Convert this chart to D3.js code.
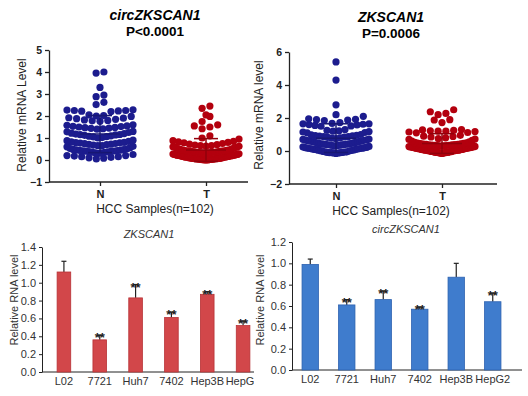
<!DOCTYPE html>
<html>
<head>
<meta charset="utf-8">
<script src="https://cdn.jsdelivr.net/npm/d3@7"></script>
<style>
  body { margin: 0; background: #fff; }
  svg { display: block; font-family: "Liberation Sans", Arial, sans-serif; }
</style>
</head>
<body>
<svg width="528" height="396"></svg>
<script>
// scatter data, HCC samples (n=102)
var circN = [4.0, 3.95, 3.3, 2.95, 2.88, 2.62, 2.52,
  2.28, 2.25, 2.22, 2.25, 2.2, 2.27, 2.23,
  2.02, 2.0, 1.98, 2.05, 1.9, 1.88, 1.92, 1.85, 1.8, 1.78, 1.82, 1.76,
  1.6, 1.55, 1.5, 1.48, 1.45, 1.52, 1.42, 1.58, 1.4, 1.47, 1.53, 1.44,
  1.3, 1.25, 1.2, 1.15, 1.12, 1.1, 1.08, 1.05, 1.02, 1.18, 1.22, 1.0, 1.28, 1.14, 1.06, 1.16,
  0.9, 0.85, 0.8, 0.78, 0.75, 0.72, 0.7, 0.68, 0.65, 0.62, 0.82, 0.88, 0.6, 0.74, 0.77, 0.66, 0.71, 0.79,
  0.55, 0.5, 0.48, 0.45, 0.42, 0.4, 0.38, 0.36, 0.35, 0.33, 0.3, 0.52, 0.44, 0.46, 0.41, 0.39, 0.37, 0.32, 0.43, 0.47,
  0.25, 0.2, 0.18, 0.15, 0.12, 0.1, 0.08, 0.05, 0.15, 0.2];
var circT = [2.45, 2.35, 2.05, 1.98, 1.75, 1.6, 1.55, 1.5, 1.42,
  1.1, 1.0, 0.95, 0.85, 0.82, 0.8, 0.78, 0.88,
  0.75, 0.7, 0.68, 0.65, 0.62, 0.6, 0.58, 0.55, 0.52, 0.5, 0.72, 0.66, 0.57, 0.63,
  0.48, 0.45, 0.42, 0.4, 0.38, 0.36, 0.35, 0.34, 0.33, 0.32, 0.3, 0.44, 0.41, 0.39, 0.37, 0.46, 0.43, 0.31, 0.35, 0.4,
  0.28, 0.26, 0.25, 0.24, 0.22, 0.2, 0.18, 0.16, 0.15, 0.14, 0.12, 0.1, 0.27, 0.23, 0.21, 0.19, 0.17, 0.13, 0.11, 0.2, 0.25, 0.15,
  0.09, 0.08, 0.07, 0.06, 0.05, 0.04, 0.03, 0.02, 0.01, 0.0, 0.08, 0.06, 0.05, 0.03, 0.02, 0.07, 0.04, 0.01,
  0.29, 0.18, 0.12, 0.09, 0.05, 0.02, 0.0, 0.03, 0.06, 0.14, 0.22];
var zkN = [5.4, 4.3, 2.8, 2.2, 2.1,
  1.92, 1.9, 1.88, 1.85, 1.95,
  1.72, 1.68, 1.65, 1.62, 1.6, 1.58, 1.55, 1.52, 1.5, 1.65,
  1.3, 1.25, 1.2, 1.18, 1.15, 1.12, 1.1, 1.22,
  1.0, 0.98, 0.95, 0.92, 0.9, 0.88, 0.85, 0.82, 0.8, 0.78, 0.75, 0.93, 0.87,
  0.72, 0.7, 0.68, 0.65, 0.62, 0.6, 0.58, 0.55, 0.52, 0.5, 0.66, 0.63, 0.57, 0.54,
  0.48, 0.45, 0.42, 0.4, 0.38, 0.36, 0.35, 0.33, 0.3, 0.28, 0.25, 0.44, 0.41, 0.39, 0.37, 0.32, 0.46, 0.43,
  0.22, 0.2, 0.18, 0.15, 0.12, 0.1, 0.08, 0.05, 0.03, 0.0, 0.2, 0.15, 0.1, 0.06, 0.02, 0.17, 0.13,
  -0.05, -0.08, -0.1, -0.12, -0.15, -0.1, -0.05, -0.08, -0.12, -0.02, -0.06, -0.1];
var zkT = [2.5, 2.38, 2.28, 2.2, 1.9, 1.88, 1.72,
  1.3, 1.28, 1.25, 1.22, 1.2, 1.18, 1.15, 1.12, 1.1, 1.2,
  0.95, 0.9, 0.85, 0.8, 0.75, 0.7, 0.65, 0.6, 0.88, 0.72,
  0.55, 0.5, 0.48, 0.45, 0.42, 0.4, 0.38, 0.36, 0.35, 0.33, 0.3, 0.52, 0.46, 0.43, 0.39, 0.34, 0.31, 0.37, 0.41, 0.32,
  0.28, 0.26, 0.25, 0.24, 0.22, 0.2, 0.18, 0.16, 0.15, 0.14, 0.12, 0.1, 0.27, 0.23, 0.21, 0.19, 0.17, 0.13, 0.11, 0.2, 0.25, 0.15,
  0.09, 0.08, 0.07, 0.06, 0.05, 0.04, 0.03, 0.02, 0.01, 0.0, 0.08, 0.05, 0.03, 0.06, 0.02,
  -0.02, -0.05, -0.08, -0.1, -0.12, -0.15, -0.05, -0.1, -0.03, -0.07, -0.12, -0.08, -0.04, -0.1, -0.06, -0.09, -0.02, -0.11];

// bar data, cell lines
var cellLines = ["L02", "7721", "Huh7", "7402", "Hep3B", "HepG2"];
var zkMean = [1.12, 0.36, 0.83, 0.61, 0.87, 0.52];
var zkErr = [0.12, 0.05, 0.15, 0.06, 0.03, 0.05];
var zkSig = ["", "**", "**", "**", "**", "**"];
var circMean = [0.99, 0.61, 0.66, 0.57, 0.87, 0.64];
var circErr = [0.05, 0.05, 0.08, 0.02, 0.13, 0.08];
var circSig = ["", "**", "**", "**", "", "**"];

var blue = "#1c1c8e", red = "#b3000e";

var svg = d3.select("svg");

// beeswarm positions: bin by pixel row, spread each row around the centre
function swarm(values, y, cx, halfW, r) {
  var sorted = values.slice().sort(function(a, b) { return a - b; });
  var bins = d3.group(sorted, function(v) { return Math.round(y(v) / 7.5); });
  var out = [];
  bins.forEach(function(vals) {
    var n = vals.length;
    var step = n > 1 ? Math.min(2 * r + 0.6, 2 * halfW / (n - 1)) : 0;
    var slots = d3.range(n).map(function(j) { return (j - (n - 1) / 2) * step; });
    slots.sort(function(a, b) { return Math.abs(a) - Math.abs(b); });
    vals.forEach(function(v, i) { out.push({ x: cx + slots[i], y: y(v) }); });
  });
  return out;
}

function scatterPanel(o) {
  var g = svg.append("g");
  var y = d3.scaleLinear().domain(o.domain).range([o.bottom, o.top]);
  var x = d3.scalePoint().domain(["N", "T"]).range(o.xs);

  g.append("g")
    .attr("transform", "translate(" + o.left + ",0)")
    .call(d3.axisLeft(y).tickValues(o.ticks).tickSize(4).tickSizeOuter(0).tickFormat(d3.format("d")))
    .call(function(a) {
      a.selectAll("text").style("font", "bold 10.5px 'Liberation Sans', Arial").attr("fill", "#222");
      a.selectAll("line, path").attr("stroke", "#222").attr("stroke-width", 1.3);
    });

  var xa = g.append("g")
    .attr("transform", "translate(0," + o.bottom + ")")
    .call(d3.axisBottom(x).tickSize(4).tickPadding(4));
  xa.select(".domain").remove();
  xa.selectAll("text").style("font", "bold 11px 'Liberation Sans', Arial").attr("fill", "#222");
  xa.selectAll("line").attr("stroke", "#222").attr("stroke-width", 1.3);
  g.append("line")
    .attr("x1", o.left).attr("x2", o.right)
    .attr("y1", o.bottom).attr("y2", o.bottom)
    .attr("stroke", "#222").attr("stroke-width", 1.3);

  [[o.n, "N", blue], [o.t, "T", red]].forEach(function(s) {
    var pts = swarm(s[0], y, x(s[1]), 33, 3.6);
    g.selectAll(null).data(pts).enter().append("circle")
      .attr("cx", function(d) { return d.x; })
      .attr("cy", function(d) { return d.y; })
      .attr("r", 3.6)
      .attr("fill", s[2]);
    var m = d3.mean(s[0]), sd = d3.deviation(s[0]), cx = x(s[1]);
    var lc = d3.color(s[2]).darker(0.6);
    g.append("line").attr("x1", cx - 20).attr("x2", cx + 20)
      .attr("y1", y(m)).attr("y2", y(m)).attr("stroke", lc).attr("stroke-width", 1.5);
    g.append("line").attr("x1", cx).attr("x2", cx)
      .attr("y1", y(m - sd)).attr("y2", y(m + sd)).attr("stroke", lc).attr("stroke-width", 1.5);
    [m - sd, m + sd].forEach(function(v) {
      g.append("line").attr("x1", cx - 12).attr("x2", cx + 12)
        .attr("y1", y(v)).attr("y2", y(v)).attr("stroke", lc).attr("stroke-width", 1.5);
    });
  });

  g.append("text").attr("x", o.cx).attr("y", o.titleY)
    .attr("text-anchor", "middle")
    .style("font", "italic bold 14px 'Liberation Sans', Arial")
    .text(o.title);
  g.append("text").attr("x", o.cx).attr("y", o.titleY + 16)
    .attr("text-anchor", "middle")
    .style("font", "bold 13.5px 'Liberation Sans', Arial")
    .text(o.p);
  g.append("text").attr("x", o.cx).attr("y", o.bottom + 31)
    .attr("text-anchor", "middle")
    .style("font", "12px 'Liberation Sans', Arial")
    .attr("fill", "#222")
    .text("HCC Samples(n=102)");
  g.append("text")
    .attr("transform", "translate(" + o.labelX + "," + o.labelY + ") rotate(-90)")
    .attr("text-anchor", "middle")
    .style("font", "12px 'Liberation Sans', Arial")
    .attr("fill", "#222")
    .text(o.ylabel);
}

scatterPanel({ n: circN, t: circT, domain: [-1, 5], ticks: [-1, 0, 1, 2, 3, 4, 5],
  top: 50, bottom: 182, left: 49, right: 248, xs: [100, 206], cx: 155, titleY: 20,
  title: "circZKSCAN1", p: "P<0.0001", ylabel: "Relative mRNA Level", labelX: 26, labelY: 115 });
scatterPanel({ n: zkN, t: zkT, domain: [-2, 6], ticks: [-2, 0, 2, 4, 6],
  top: 52, bottom: 184, left: 289, right: 497, xs: [336, 442], cx: 391, titleY: 22,
  title: "ZKSCAN1", p: "P=0.0006", ylabel: "Relative mRNA level", labelX: 263, labelY: 115 });

function barPanel(o) {
  var g = svg.append("g");
  if (o.clip) {
    svg.append("clipPath").attr("id", o.clip).append("rect")
      .attr("x", 0).attr("y", 200).attr("width", o.clipW).attr("height", 196);
    g.attr("clip-path", "url(#" + o.clip + ")");
  }
  var y = d3.scaleLinear().domain([0, o.max]).range([o.bottom, o.top]);
  var x = d3.scaleBand().domain(cellLines).range(o.xr).paddingInner(o.pad).paddingOuter(o.pad / 2);

  g.append("g")
    .attr("transform", "translate(" + o.left + ",0)")
    .call(d3.axisLeft(y).ticks(o.max / 0.2).tickSize(3).tickSizeOuter(0).tickFormat(d3.format(".1f")))
    .call(function(a) {
      a.selectAll("text").style("font", "11px 'Liberation Sans', Arial").attr("fill", "#333");
      a.selectAll("line, path").attr("stroke", "#222");
    });
  var xa = g.append("g")
    .attr("transform", "translate(0," + o.bottom + ")")
    .call(d3.axisBottom(x).tickSize(0).tickPadding(5));
  xa.select(".domain").remove();
  xa.selectAll("text").style("font", "11px 'Liberation Sans', Arial").attr("fill", "#333");
  g.append("line")
    .attr("x1", o.left).attr("x2", o.right)
    .attr("y1", o.bottom).attr("y2", o.bottom)
    .attr("stroke", "#222");

  var rows = cellLines.map(function(c, i) {
    return { c: c, m: o.mean[i], e: o.err[i], s: o.sig[i] };
  });
  g.selectAll(null).data(rows).enter().append("line")
    .attr("x1", function(d) { return x(d.c) + x.bandwidth() / 2; })
    .attr("x2", function(d) { return x(d.c) + x.bandwidth() / 2; })
    .attr("y1", function(d) { return y(d.m); })
    .attr("y2", function(d) { return y(d.m + d.e); })
    .attr("stroke", "#222").attr("stroke-width", 1.2);
  g.selectAll(null).data(rows).enter().append("line")
    .attr("x1", function(d) { return x(d.c) + x.bandwidth() / 2 - 2.5; })
    .attr("x2", function(d) { return x(d.c) + x.bandwidth() / 2 + 2.5; })
    .attr("y1", function(d) { return y(d.m + d.e); })
    .attr("y2", function(d) { return y(d.m + d.e); })
    .attr("stroke", "#222").attr("stroke-width", 1.2);
  g.selectAll(null).data(rows).enter().append("rect")
    .attr("x", function(d) { return x(d.c); })
    .attr("width", x.bandwidth())
    .attr("y", function(d) { return y(d.m); })
    .attr("height", function(d) { return y(0) - y(d.m); })
    .attr("fill", o.fill).attr("stroke", o.stroke).attr("stroke-width", 0.8);
  g.selectAll(null).data(rows).enter().append("text")
    .attr("x", function(d) { return x(d.c) + x.bandwidth() / 2; })
    .attr("y", function(d) { return y(d.m + d.e) + 7; })
    .attr("text-anchor", "middle")
    .style("font", "bold 13px 'Liberation Sans', Arial")
    .attr("fill", "#222")
    .text(function(d) { return d.s; });

  g.append("text").attr("x", o.cx).attr("y", o.titleY)
    .attr("text-anchor", "middle")
    .style("font", "italic 11px 'Liberation Sans', Arial")
    .attr("fill", "#333")
    .text(o.title);
  g.append("text")
    .attr("transform", "translate(" + o.labelX + ",300) rotate(-90)")
    .attr("text-anchor", "middle")
    .style("font", "11px 'Liberation Sans', Arial")
    .attr("fill", "#333")
    .text("Relative RNA level");
}

barPanel({ mean: zkMean, err: zkErr, sig: zkSig, max: 1.4, top: 247, bottom: 372,
  left: 42, right: 259, xr: [46, 261], pad: 0.62, fill: "#d2474a", stroke: "#b83236",
  cx: 149, titleY: 238, title: "ZKSCAN1", labelX: 18, clip: "clipL", clipW: 254 });
barPanel({ mean: circMean, err: circErr, sig: circSig, max: 1.2, top: 242, bottom: 370,
  left: 292, right: 522, xr: [292, 511], pad: 0.55, fill: "#3f7ccd", stroke: "#2d62b0",
  cx: 406, titleY: 233, title: "circZKSCAN1", labelX: 264 });
</script>
</body>
</html>
